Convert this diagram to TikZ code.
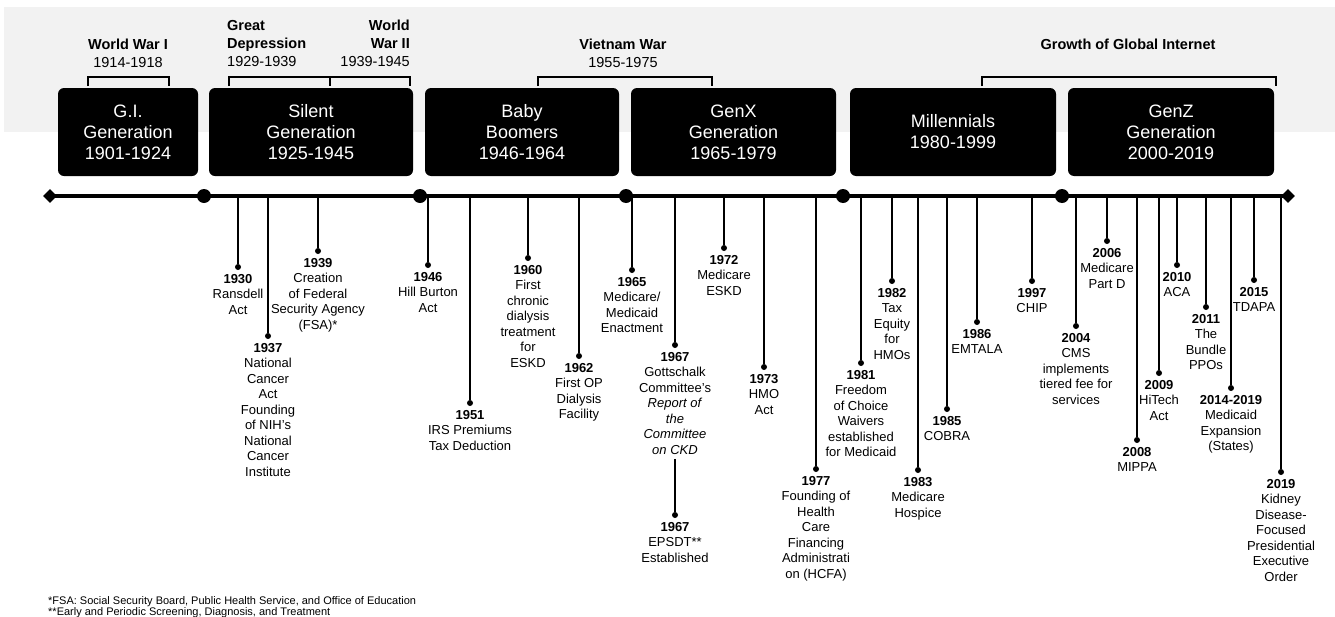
\documentclass[tikz,border=0pt]{standalone}
\usepackage{fontspec}
\setmainfont{Liberation Sans}
\usepackage{tikz}
\usetikzlibrary{positioning,shapes.geometric}

\tikzset{
  genbox/.style={fill=black, rounded corners=6pt, text=white, align=center,
    font=\fontsize{18}{21}\selectfont, minimum height=88pt, inner sep=0pt},
  era/.style={align=center, font=\fontsize{14.5}{18}\selectfont, inner sep=0pt},
  bracket/.style={line width=2pt},
  evdot/.style={circle, fill=black, inner sep=0pt, minimum size=6pt},
  bigdot/.style={circle, fill=black, inner sep=0pt, minimum size=14pt},
  enddiam/.style={diamond, fill=black, inner sep=0pt, minimum size=14pt},
  evt/.style={align=center, font=\fontsize{13}{15.5}\selectfont, inner sep=0pt},
  stem/.style={line width=2pt}
}

\begin{document}
\begin{tikzpicture}[x=1pt, y=-1pt, node distance=4pt]
  \useasboundingbox (0,0) rectangle (1335,616);
  \fill[gray!10] (4,7) rectangle (1335,132);

  % eras above the boxes
  \node[era] (ww1) at (128,53) {\textbf{World War I}\\1914-1918};
  \node[era, align=left, anchor=north west] (gd) at (227,20) {\textbf{Great}\\\textbf{Depression}\\1929-1939};
  \node[era, align=right, anchor=north east] (ww2) at (410,20) {\textbf{World}\\\textbf{War II}\\1939-1945};
  \node[era] (vw) at (623,53) {\textbf{Vietnam War}\\1955-1975};
  \node[era] (gi) at (1128,44) {\textbf{Growth of Global Internet}};

  \draw[bracket] (88,86) -- (88,77) -- (169,77) -- (169,86);
  \draw[bracket] (229,86) -- (229,77) -- (410,77) -- (410,86);
  \draw[bracket] (330,77) -- (330,86);
  \draw[bracket] (538,86) -- (538,77) -- (712,77) -- (712,86);
  \draw[bracket] (982,86) -- (982,77) -- (1276,77) -- (1276,86);

  % generations
  \node[genbox, minimum width=140pt] (gen1) at (128,132) {G.I.\\Generation\\1901-1924};
  \node[genbox, minimum width=204pt] (gen2) at (311,132) {Silent\\Generation\\1925-1945};
  \node[genbox, minimum width=194pt] (gen3) at (522,132) {Baby\\Boomers\\1946-1964};
  \node[genbox, minimum width=205pt] (gen4) at (733.5,132) {GenX\\Generation\\1965-1979};
  \node[genbox, minimum width=206pt] (gen5) at (953,132) {Millennials\\1980-1999};
  \node[genbox, minimum width=206pt] (gen6) at (1171,132) {GenZ\\Generation\\2000-2019};

  % timeline
  \node[enddiam] (tstart) at (50,196) {};
  \node[enddiam] (tend) at (1288,196) {};
  \draw[line width=4pt] (tstart.center) -- (tend.center);
  \node[bigdot] (b1) at (204,196) {};
  \node[bigdot] (b2) at (420,196) {};
  \node[bigdot] (b3) at (626,196) {};
  \node[bigdot] (b4) at (843,196) {};
  \node[bigdot] (b5) at (1062,196) {};

  % events
  \node[evdot] (d1930) at (238,267) {};
  \node[evt, below=of d1930] (e1930) {\textbf{1930}\\Ransdell\\Act};
  \draw[stem] (d1930 |- tstart) -- (d1930);

  \node[evdot] (d1937) at (268,336) {};
  \node[evt, below=of d1937] (e1937) {\textbf{1937}\\National\\Cancer\\Act\\Founding\\of NIH's\\National\\Cancer\\Institute};
  \draw[stem] (d1937 |- tstart) -- (d1937);

  \node[evdot] (d1939) at (318,251) {};
  \node[evt, below=of d1939] (e1939) {\textbf{1939}\\Creation\\of Federal\\Security Agency\\(FSA)*};
  \draw[stem] (d1939 |- tstart) -- (d1939);

  \node[evdot] (d1946) at (428,265) {};
  \node[evt, below=of d1946] (e1946) {\textbf{1946}\\Hill Burton\\Act};
  \draw[stem] (d1946 |- tstart) -- (d1946);

  \node[evdot] (d1951) at (470,403) {};
  \node[evt, below=of d1951] (e1951) {\textbf{1951}\\IRS Premiums\\Tax Deduction};
  \draw[stem] (d1951 |- tstart) -- (d1951);

  \node[evdot] (d1960) at (528,258) {};
  \node[evt, below=of d1960] (e1960) {\textbf{1960}\\First\\chronic\\dialysis\\treatment\\for\\ESKD};
  \draw[stem] (d1960 |- tstart) -- (d1960);

  \node[evdot] (d1962) at (579,356) {};
  \node[evt, below=of d1962] (e1962) {\textbf{1962}\\First OP\\Dialysis\\Facility};
  \draw[stem] (d1962 |- tstart) -- (d1962);

  \node[evdot] (d1965) at (632,270) {};
  \node[evt, below=of d1965] (e1965) {\textbf{1965}\\Medicare/\\Medicaid\\Enactment};
  \draw[stem] (d1965 |- tstart) -- (d1965);

  \node[evdot] (d1967a) at (675,345) {};
  \node[evt, below=of d1967a] (e1967a) {\textbf{1967}\\Gottschalk\\Committee's\\\textit{Report of}\\\textit{the}\\\textit{Committee}\\\textit{on CKD}};
  \draw[stem] (d1967a |- tstart) -- (d1967a);

  \node[evdot] (d1967b) at (675,515) {};
  \node[evt, below=of d1967b] (e1967b) {\textbf{1967}\\EPSDT**\\Established};
  \draw[stem] ([yshift=-4pt]e1967a.south) -- (d1967b);

  \node[evdot] (d1972) at (724,248) {};
  \node[evt, below=of d1972] (e1972) {\textbf{1972}\\Medicare\\ESKD};
  \draw[stem] (d1972 |- tstart) -- (d1972);

  \node[evdot] (d1973) at (764,367) {};
  \node[evt, below=of d1973] (e1973) {\textbf{1973}\\HMO\\Act};
  \draw[stem] (d1973 |- tstart) -- (d1973);

  \node[evdot] (d1977) at (816,469) {};
  \node[evt, below=of d1977] (e1977) {\textbf{1977}\\Founding of\\Health\\Care\\Financing\\Administrati\\on (HCFA)};
  \draw[stem] (d1977 |- tstart) -- (d1977);

  \node[evdot] (d1981) at (861,363) {};
  \node[evt, below=of d1981] (e1981) {\textbf{1981}\\Freedom\\of Choice\\Waivers\\established\\for Medicaid};
  \draw[stem] (d1981 |- tstart) -- (d1981);

  \node[evdot] (d1982) at (892,281) {};
  \node[evt, below=of d1982] (e1982) {\textbf{1982}\\Tax\\Equity\\for\\HMOs};
  \draw[stem] (d1982 |- tstart) -- (d1982);

  \node[evdot] (d1983) at (918,470) {};
  \node[evt, below=of d1983] (e1983) {\textbf{1983}\\Medicare\\Hospice};
  \draw[stem] (d1983 |- tstart) -- (d1983);

  \node[evdot] (d1985) at (947,409) {};
  \node[evt, below=of d1985] (e1985) {\textbf{1985}\\COBRA};
  \draw[stem] (d1985 |- tstart) -- (d1985);

  \node[evdot] (d1986) at (977,322) {};
  \node[evt, below=of d1986] (e1986) {\textbf{1986}\\EMTALA};
  \draw[stem] (d1986 |- tstart) -- (d1986);

  \node[evdot] (d1997) at (1032,281) {};
  \node[evt, below=of d1997] (e1997) {\textbf{1997}\\CHIP};
  \draw[stem] (d1997 |- tstart) -- (d1997);

  \node[evdot] (d2004) at (1076,326) {};
  \node[evt, below=of d2004] (e2004) {\textbf{2004}\\CMS\\implements\\tiered fee for\\services};
  \draw[stem] (d2004 |- tstart) -- (d2004);

  \node[evdot] (d2006) at (1107,241) {};
  \node[evt, below=of d2006] (e2006) {\textbf{2006}\\Medicare\\Part D};
  \draw[stem] (d2006 |- tstart) -- (d2006);

  \node[evdot] (d2008) at (1137,440) {};
  \node[evt, below=of d2008] (e2008) {\textbf{2008}\\MIPPA};
  \draw[stem] (d2008 |- tstart) -- (d2008);

  \node[evdot] (d2009) at (1159,373) {};
  \node[evt, below=of d2009] (e2009) {\textbf{2009}\\HiTech\\Act};
  \draw[stem] (d2009 |- tstart) -- (d2009);

  \node[evdot] (d2010) at (1177,265) {};
  \node[evt, below=of d2010] (e2010) {\textbf{2010}\\ACA};
  \draw[stem] (d2010 |- tstart) -- (d2010);

  \node[evdot] (d2011) at (1206,307) {};
  \node[evt, below=of d2011] (e2011) {\textbf{2011}\\The\\Bundle\\PPOs};
  \draw[stem] (d2011 |- tstart) -- (d2011);

  \node[evdot] (d2014) at (1231,388) {};
  \node[evt, below=of d2014] (e2014) {\textbf{2014-2019}\\Medicaid\\Expansion\\(States)};
  \draw[stem] (d2014 |- tstart) -- (d2014);

  \node[evdot] (d2015) at (1254,280) {};
  \node[evt, below=of d2015] (e2015) {\textbf{2015}\\TDAPA};
  \draw[stem] (d2015 |- tstart) -- (d2015);

  \node[evdot] (d2019) at (1281,472) {};
  \node[evt, below=of d2019] (e2019) {\textbf{2019}\\Kidney\\Disease-\\Focused\\Presidential\\Executive\\Order};
  \draw[stem] (d2019 |- tstart) -- (d2019);

  % footnotes
  \node[align=left, anchor=north west, inner sep=0pt, font=\fontsize{11}{11.5}\selectfont] (notes) at (48,596)
    {*FSA: Social Security Board, Public Health Service, and Office of Education\\**Early and Periodic Screening, Diagnosis, and Treatment};
\end{tikzpicture}
\end{document}
